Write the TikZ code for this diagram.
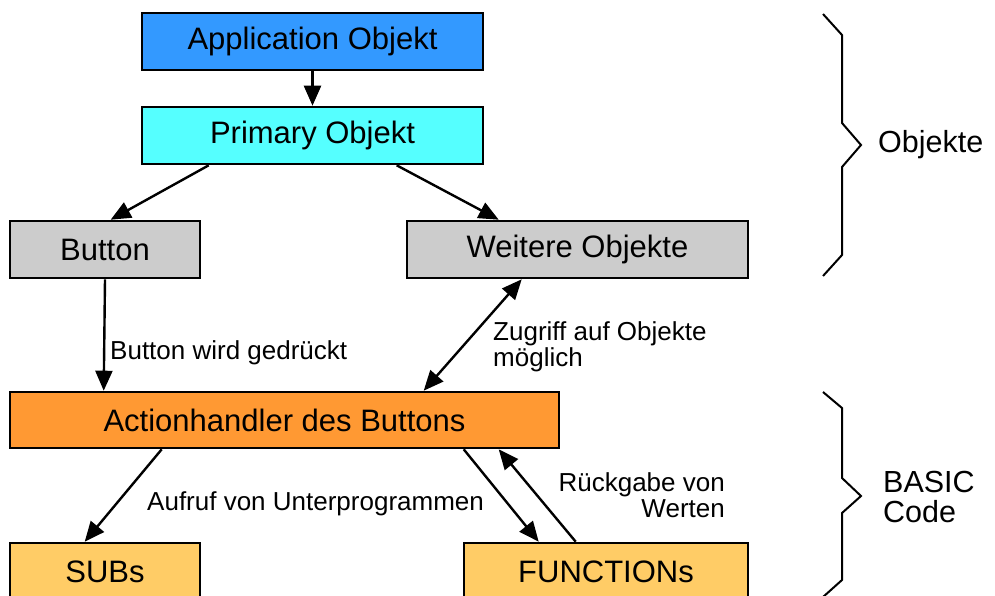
\documentclass[tikz,border=0pt]{standalone}
\usepackage{fontspec}
\setmainfont{Liberation Sans}
\usetikzlibrary{arrows.meta}
\definecolor{appblue}{HTML}{3399FF}
\definecolor{primcyan}{HTML}{55FFFF}
\definecolor{boxgray}{HTML}{CCCCCC}
\definecolor{actorange}{HTML}{FF9933}
\definecolor{codeorange}{HTML}{FFCC66}
\begin{document}
\begin{tikzpicture}[x=1pt,y=-1pt,
  box/.style={draw=black, line width=2.6pt, inner sep=0pt, minimum height=57pt,
    font=\fontsize{31}{31}\selectfont},
  conn/.style={line width=2.4pt, -{Triangle[length=20pt,width=17pt]}},
  bconn/.style={line width=2.4pt, {Triangle[length=20pt,width=17pt]}-{Triangle[length=20pt,width=17pt]}},
  lbl/.style={inner sep=0pt, font=\fontsize{26}{26}\selectfont},
  blbl/.style={inner sep=0pt, font=\fontsize{30.5}{30}\selectfont},
  brace/.style={line width=2pt, line join=miter}
]
\useasboundingbox (0,0) rectangle (995,595);
\node[box, fill=appblue, minimum width=341pt] (app) at (312.5,41.5) {Application Objekt};
\node[box, fill=primcyan, minimum width=341pt] (prim) at (312.5,135.5) {Primary Objekt};
\node[box, fill=boxgray, minimum width=190pt] (btn) at (105,249.5) {Button};
\node[box, fill=boxgray, minimum width=341pt] (weit) at (577.5,249.5) {Weitere Objekte};
\node[box, fill=actorange, minimum width=549pt, minimum height=56pt] (act) at (284.5,420) {Actionhandler des Buttons};
\node[box, fill=codeorange, minimum width=190pt] (subs) at (105,571.5) {SUBs};
\node[box, fill=codeorange, minimum width=284pt] (func) at (606,571.5) {FUNCTIONs};

\draw[conn] (app.south) -- (prim.north);
\draw[conn] ([xshift=68pt]prim.south west) -- ([xshift=102pt]btn.north west);
\draw[conn] ([xshift=256pt]prim.south west) -- ([xshift=93pt]weit.north west);
\draw[conn] (btn.south) -- ([xshift=95pt]act.north west);
\draw[bconn] ([xshift=116pt]weit.south west) -- ([xshift=415pt]act.north west);
\draw[conn] ([xshift=153pt]act.south west) -- ([xshift=76pt]subs.north west);
\draw[conn] ([xshift=455pt]act.south west) -- ([xshift=76pt]func.north west);
\draw[conn] ([xshift=113pt]func.north west) -- ([xshift=490pt]act.south west);

\node[lbl, anchor=base west] (l1) at (110,359) {Button wird gedrückt};
\node[lbl, anchor=base west, align=left] (l2) at (493,366) {Zugriff auf Objekte\\möglich};
\node[lbl, anchor=base west] (l3) at (147,510) {Aufruf von Unterprogrammen};
\node[lbl, anchor=base east, align=right] (l4) at (725,517) {Rückgabe von\\Werten};

\draw[brace] (823,14) -- (842,35) -- (842,123) -- (861,145) -- (842,167) -- (842,255) -- (823,276);
\draw[brace] (823,392) -- (842,408) -- (842,478) -- (861,496) -- (842,513) -- (842,580) -- (823,597);
\node[blbl, anchor=west] (o) at (878,145) {Objekte};
\node[blbl, anchor=base west, align=left] (b) at (883,522) {BASIC\\Code};
\end{tikzpicture}
\end{document}
